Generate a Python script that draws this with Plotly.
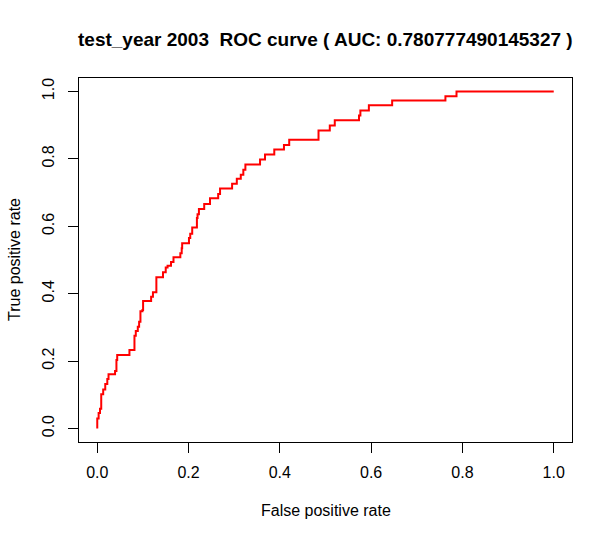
import plotly.graph_objects as go

# ROC curve points (corners of the staircase)
fpr = [0, 0.003, 0.006, 0.0087, 0.013, 0.0175, 0.022, 0.0247, 0.039, 0.042,
       0.0437, 0.0705, 0.0815, 0.0844, 0.0888, 0.0917, 0.0946, 0.099, 0.1004, 0.118,
       0.122, 0.1295, 0.144, 0.150, 0.154, 0.1616, 0.167, 0.182, 0.185, 0.186,
       0.2009, 0.2037, 0.208, 0.2183, 0.2197, 0.2227, 0.2343, 0.247, 0.2649, 0.269,
       0.2954, 0.3057, 0.3144, 0.320, 0.3245, 0.3566, 0.3675, 0.3878, 0.409, 0.4205,
       0.4847, 0.5094, 0.5203, 0.5734, 0.5764, 0.595, 0.646, 0.7627, 0.787, 1.0]
tpr = [0, 0.030, 0.046, 0.059, 0.102, 0.116, 0.132, 0.147, 0.161, 0.171,
       0.203, 0.218, 0.233, 0.275, 0.289, 0.302, 0.317, 0.348, 0.352, 0.3785,
       0.391, 0.404, 0.449, 0.464, 0.478, 0.483, 0.494, 0.5085, 0.520, 0.535,
       0.550, 0.565, 0.578, 0.5965, 0.6244, 0.636, 0.651, 0.666, 0.683, 0.696,
       0.7125, 0.7264, 0.741, 0.753, 0.768, 0.783, 0.798, 0.813, 0.8275, 0.8415,
       0.857, 0.884, 0.899, 0.9146, 0.9286, 0.9435, 0.959, 0.9735, 0.986, 1.0]

ticks = [0, 0.2, 0.4, 0.6, 0.8, 1.0]
tick_text = ["0.0", "0.2", "0.4", "0.6", "0.8", "1.0"]

year = 2003
auc = "0.780777490145327"

fig = go.Figure(go.Scatter(x=fpr, y=tpr, mode="lines",
                           line=dict(color="#ff0000", width=2, shape="vh"),
                           hoverinfo="skip"))

axis_style = dict(
    range=[-0.04, 1.04], showgrid=False, zeroline=False,
    showline=True, linecolor="black", linewidth=1, mirror=True,
    ticks="outside", ticklen=10, tickcolor="black", tickwidth=1,
    tickvals=ticks, ticktext=tick_text,
    tickfont=dict(family="Liberation Sans, Arial", size=16, color="black"),
)

fig.update_layout(
    width=612, height=540,
    margin=dict(l=79, r=40, t=78, b=98, pad=0),
    paper_bgcolor="white", plot_bgcolor="white",
    showlegend=False,
    xaxis=dict(axis_style, ticklabelstandoff=6),
    yaxis=dict(axis_style, tickangle=-90, ticklabelstandoff=8),
    annotations=[
        dict(text="<b>test_year %d  ROC curve ( AUC: %s )</b>" % (year, auc),
             xref="paper", yref="paper", x=0.5, y=1 + 38 / 364,
             xanchor="center", yanchor="middle", showarrow=False,
             font=dict(family="Liberation Sans, Arial", size=19, color="black")),
        dict(text="False positive rate",
             xref="paper", yref="paper", x=0.5, y=-68 / 364,
             xanchor="center", yanchor="middle", showarrow=False,
             font=dict(family="Liberation Sans, Arial", size=16, color="black")),
        dict(text="True positive rate", textangle=-90,
             xref="paper", yref="paper", x=-65 / 493, y=0.5,
             xanchor="center", yanchor="middle", showarrow=False,
             font=dict(family="Liberation Sans, Arial", size=16, color="black")),
    ],
)

# drop the browser's default 8px body margin so the figure sits at 0,0
fig.write_html("out.html", config={"displayModeBar": False},
               post_script="document.body.style.margin='0px';")
